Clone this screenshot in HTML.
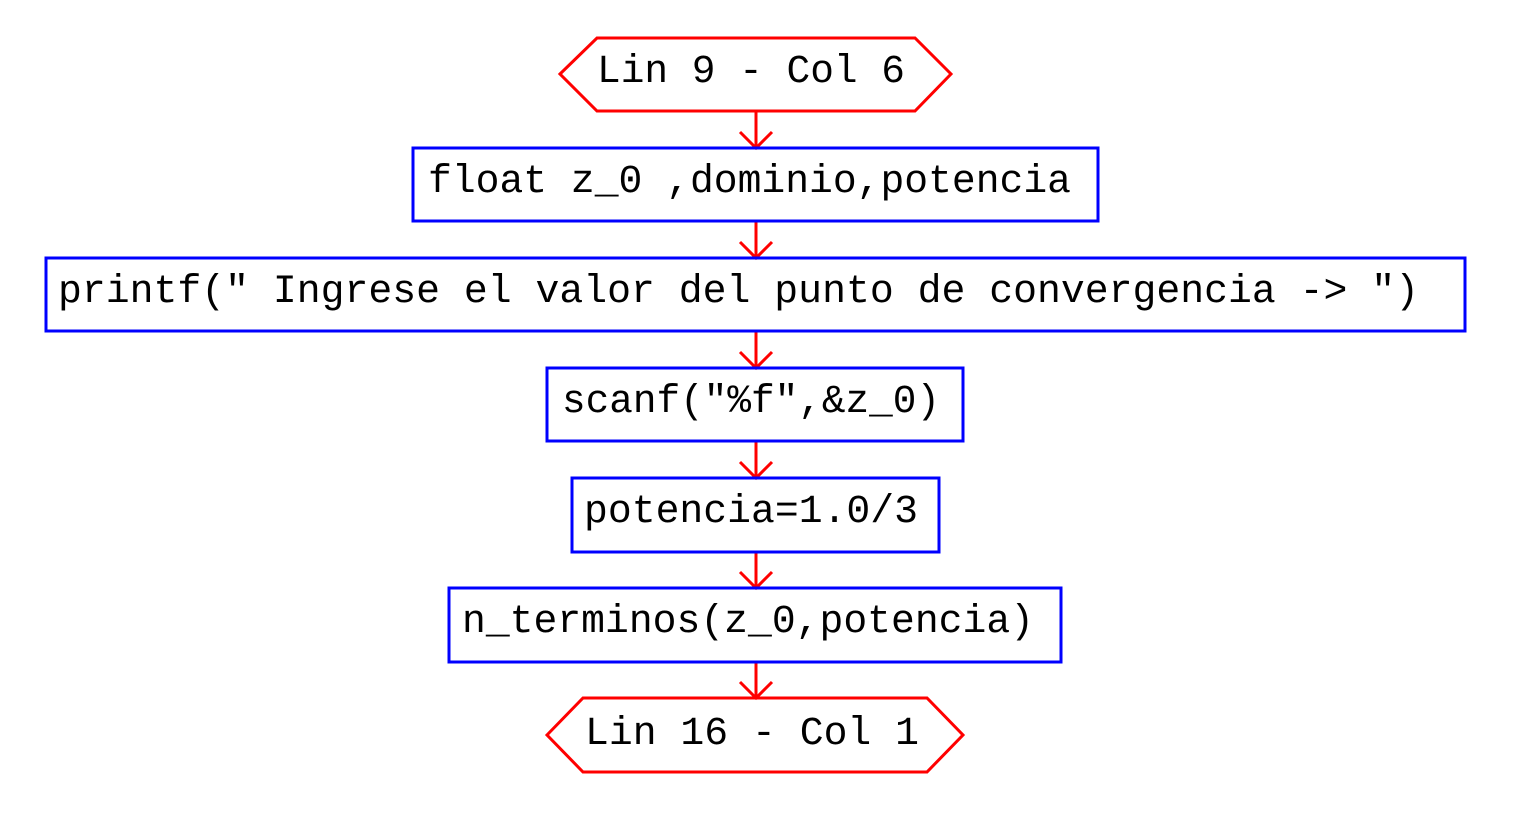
<!DOCTYPE html>
<html><head><meta charset="utf-8"><style>
html,body{margin:0;padding:0;background:#fff;}
svg{display:block;}
text{font-family:"Liberation Mono","Courier New",monospace;font-size:40px;fill:#000;}
</style></head><body>
<svg width="1516" height="822" viewBox="0 0 1516 822" xmlns="http://www.w3.org/2000/svg">
<g fill="none" stroke="#f00" stroke-width="3">
<polygon points="560,74 597,38 915,38 951,74 915,111 597,111"/>
<polygon points="547,735 583,698 927,698 963,735 927,772 583,772"/>
<path d="M756,111V148M740,132L756,148L772,132"/>
<path d="M756,221V258M740,242L756,258L772,242"/>
<path d="M756,331V368M740,352L756,368L772,352"/>
<path d="M756,441V478M740,462L756,478L772,462"/>
<path d="M756,552V588M740,572L756,588L772,572"/>
<path d="M756,662V698M740,682L756,698L772,682"/>
</g>
<g fill="none" stroke="#00f" stroke-width="3">
<rect x="413" y="148" width="685" height="73"/>
<rect x="46" y="258" width="1419" height="73"/>
<rect x="547" y="368" width="416" height="73"/>
<rect x="572" y="478" width="367" height="74"/>
<rect x="449" y="588" width="612" height="74"/>
</g>
<text x="597" y="82" textLength="308" lengthAdjust="spacingAndGlyphs" xml:space="preserve">Lin 9 - Col 6</text>
<text x="428" y="192" textLength="643" lengthAdjust="spacingAndGlyphs" xml:space="preserve">float z_0 ,dominio,potencia</text>
<text x="58" y="302" textLength="1361" lengthAdjust="spacingAndGlyphs" xml:space="preserve">printf(" Ingrese el valor del punto de convergencia -&gt; ")</text>
<text x="562" y="412" textLength="378" lengthAdjust="spacingAndGlyphs" xml:space="preserve">scanf("%f",&amp;z_0)</text>
<text x="584" y="522" textLength="334" lengthAdjust="spacingAndGlyphs" xml:space="preserve">potencia=1.0/3</text>
<text x="462" y="632" textLength="572" lengthAdjust="spacingAndGlyphs" xml:space="preserve">n_terminos(z_0,potencia)</text>
<text x="585" y="744" textLength="334" lengthAdjust="spacingAndGlyphs" xml:space="preserve">Lin 16 - Col 1</text>
</svg>
</body></html>
